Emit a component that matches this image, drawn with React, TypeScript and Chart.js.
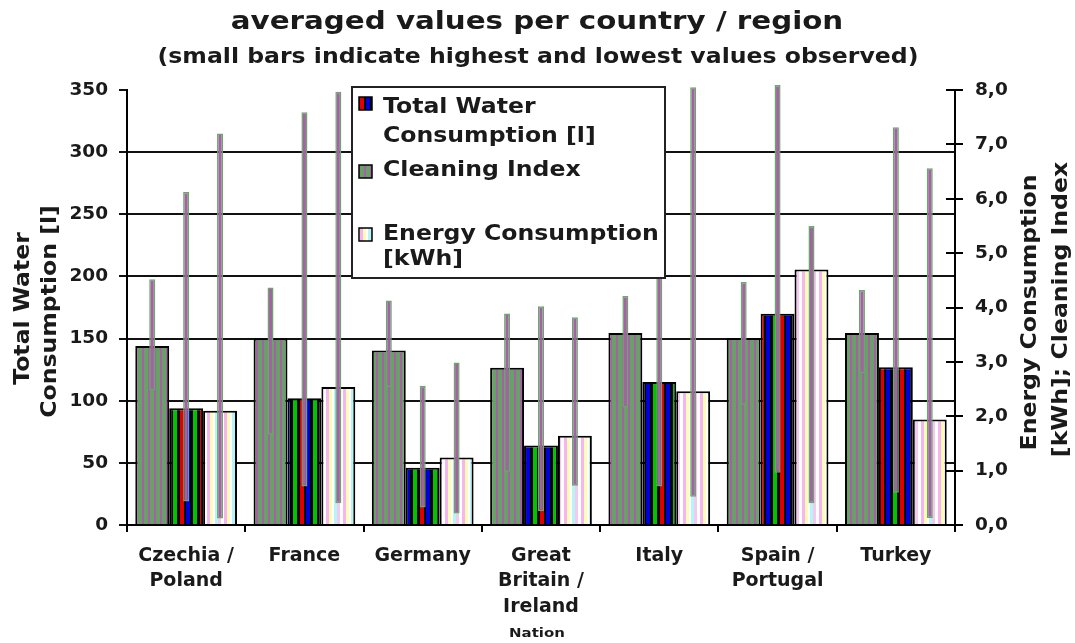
import { useEffect, useRef } from 'react';
import { Chart, registerables } from 'chart.js';

Chart.register(...registerables);

// ---------- data ----------
const categories = [
  ['Czechia /', 'Poland'],
  ['France'],
  ['Germany'],
  ['Great', 'Britain /', 'Ireland'],
  ['Italy'],
  ['Spain /', 'Portugal'],
  ['Turkey'],
];
const waterAvg = [94, 102, 46, 64, 115, 170, 127];
const waterMin = [19, 31, 14, 11, 31, 42, 26];
const waterMax = [268, 332, 112, 176, 300, 354, 320];
const cleaningAvg = [3.29, 3.43, 3.21, 2.89, 3.53, 3.44, 3.53];
const cleaningMin = [2.48, 1.66, 2.54, 0.98, 2.16, 2.21, 2.79];
const cleaningMax = [4.52, 4.37, 4.13, 3.89, 4.21, 4.47, 4.32];
const energyAvg = [2.1, 2.54, 1.24, 1.64, 2.46, 4.7, 1.94];
const energyMin = [0.12, 0.4, 0.21, 0.72, 0.52, 0.4, 0.13];
const energyMax = [7.2, 7.97, 2.99, 3.82, 8.05, 5.5, 6.56];
const leftTicks = [0, 50, 100, 150, 200, 250, 300, 350];
const rightTicks = [0, 1, 2, 3, 4, 5, 6, 7, 8];

const titleText = 'averaged values per country / region';
const subtitleText = '(small bars indicate highest and lowest values observed)';
const leftTitle = ['Total Water', 'Consumption [l]'];
const rightTitle = ['Energy Consumption', '[kWh]; Cleaning Index'];
const xTitle = 'Nation';
const legendLines = ['Total Water', 'Consumption [l]', 'Cleaning Index', 'Energy Consumption', '[kWh]'];

// ---------- styles ----------
const FONT = '"DejaVu Sans", Verdana, sans-serif';
const TEXT = '#1a1a1a';
const WIDE = 1.15; // horizontal stretch to mimic Verdana Bold widths

function stripes(cols: [string, number][]): CanvasPattern {
  const w = cols.reduce((s, [, n]) => s + n, 0);
  const c = document.createElement('canvas');
  c.width = w;
  c.height = 4;
  const g = c.getContext('2d')!;
  let x = 0;
  for (const [col, n] of cols) {
    g.fillStyle = col;
    g.fillRect(x, 0, n, 4);
    x += n;
  }
  return g.createPattern(c, 'repeat')!;
}

function wideText(ctx: CanvasRenderingContext2D, s: string, x: number, y: number, rot = 0) {
  ctx.save();
  ctx.translate(x, y);
  if (rot) ctx.rotate(rot);
  ctx.scale(WIDE, 1);
  ctx.fillText(s, 0, 0);
  ctx.restore();
}

export default function App() {
  const ref = useRef<HTMLCanvasElement>(null);

  useEffect(() => {
    document.body.style.margin = '0';
    const cleanPat = stripes([['#68a068', 4], ['#a462a4', 2]]);
    const waterPat = stripes([
      ['#e00000', 4], ['#000000', 2], ['#0000dc', 4], ['#000000', 3], ['#00c400', 4], ['#000000', 3],
    ]);
    const energyPat = stripes([
      ['#ffffff', 3], ['#f5b5f0', 3], ['#fffdb5', 3], ['#ffffff', 2], ['#b5f5f5', 3], ['#f7c8ee', 3],
    ]);

    const rangeStyle = {
      backgroundColor: '#a462a4',
      borderColor: '#68a868',
      borderWidth: 1.5,
      borderSkipped: false as const,
      maxBarThickness: 6,
      barPercentage: 1,
      categoryPercentage: 0.86,
      clip: false as const,
    };
    const mainStyle = {
      borderColor: '#000000',
      borderWidth: 2,
      barPercentage: 1,
      categoryPercentage: 0.86,
    };

    const overlay = {
      id: 'overlay',
      afterDraw(chart: any) {
        const ctx: CanvasRenderingContext2D = chart.ctx;
        const area = chart.chartArea;
        ctx.save();
        ctx.fillStyle = TEXT;
        ctx.textAlign = 'center';
        ctx.textBaseline = 'middle';
        ctx.font = `bold 25.5px ${FONT}`;
        wideText(ctx, titleText, 537, 22);
        ctx.font = `bold 20.5px ${FONT}`;
        wideText(ctx, subtitleText, 538, 58);

        // axis titles
        ctx.font = `bold 20.5px ${FONT}`;
        const cy = (area.top + area.bottom) / 2;
        wideText(ctx, leftTitle[0], 24, cy + 1, -Math.PI / 2);
        wideText(ctx, leftTitle[1], 51, cy + 4, -Math.PI / 2);
        wideText(ctx, rightTitle[0], 1031, cy + 5, -Math.PI / 2);
        wideText(ctx, rightTitle[1], 1062, cy + 2, -Math.PI / 2);

        ctx.font = `bold 13px ${FONT}`;
        wideText(ctx, xTitle, 537, 634);

        // inner tick marks of the right axis
        const y2 = chart.scales.y2;
        ctx.strokeStyle = '#000';
        ctx.lineWidth = 2;
        for (const t of y2.ticks) {
          const py = Math.round(y2.getPixelForValue(t.value));
          ctx.beginPath();
          ctx.moveTo(area.right - 9, py);
          ctx.lineTo(area.right, py);
          ctx.stroke();
        }

        // legend
        const lx = 352, ly = 87, lw = 313, lh = 191;
        ctx.fillStyle = '#ffffff';
        ctx.fillRect(lx, ly, lw, lh);
        ctx.strokeStyle = '#222';
        ctx.lineWidth = 2;
        ctx.strokeRect(lx, ly, lw, lh);
        const sw = [
          [waterPat, 97],
          [cleanPat, 165],
          [energyPat, 228],
        ] as [CanvasPattern, number][];
        for (const [p, sy] of sw) {
          ctx.fillStyle = p;
          ctx.fillRect(359, sy, 13, 13);
          ctx.lineWidth = 1.5;
          ctx.strokeStyle = '#000';
          ctx.strokeRect(359, sy, 13, 13);
        }
        ctx.fillStyle = TEXT;
        ctx.textAlign = 'left';
        ctx.font = `bold 20.5px ${FONT}`;
        const ys = [108, 137, 171, 235, 260];
        legendLines.forEach((s, i) => wideText(ctx, s, 383, ys[i]));
        ctx.restore();
      },
    };

    const chart = new Chart(ref.current!, {
      type: 'bar',
      data: {
        labels: categories,
        datasets: [
          { ...rangeStyle, label: 'Cleaning range', stack: 'c', yAxisID: 'y2',
            data: cleaningMin.map((v, i) => [v, cleaningMax[i]]) as any },
          { ...rangeStyle, label: 'Water range', stack: 'w', yAxisID: 'y',
            data: waterMin.map((v, i) => [v, waterMax[i]]) as any },
          { ...rangeStyle, label: 'Energy range', stack: 'e', yAxisID: 'y2',
            data: energyMin.map((v, i) => [v, energyMax[i]]) as any },
          { ...mainStyle, label: 'Cleaning Index', stack: 'c', yAxisID: 'y2',
            backgroundColor: cleanPat, data: cleaningAvg },
          { ...mainStyle, label: 'Total Water Consumption [l]', stack: 'w', yAxisID: 'y',
            backgroundColor: waterPat, data: waterAvg },
          { ...mainStyle, label: 'Energy Consumption [kWh]', stack: 'e', yAxisID: 'y2',
            backgroundColor: energyPat, data: energyAvg },
        ],
      },
      options: {
        responsive: false,
        animation: false,
        events: [],
        layout: { padding: { top: 90, left: 0, right: 0, bottom: 0 } },
        plugins: { legend: { display: false }, tooltip: { enabled: false }, title: { display: false } },
        font: { family: FONT },
        scales: {
          x: {
            grid: { drawOnChartArea: false, offset: true, tickLength: 7, lineWidth: 2, color: '#000' },
            border: { color: '#000', width: 2 },
            ticks: { color: TEXT, font: { family: FONT, size: 19, weight: 'bold', lineHeight: 1.35 }, padding: 11, maxRotation: 0, autoSkip: false },
            afterFit: (s: any) => { s.height = 118; },
          },
          y: {
            position: 'left',
            stacked: false,
            min: 0,
            max: 350,
            afterBuildTicks: (s: any) => { s.ticks = leftTicks.map((v) => ({ value: v })); },
            grid: {
              lineWidth: 2,
              color: (c: any) => (c.tick && c.tick.value === 350 ? 'rgba(0,0,0,0)' : '#111'),
              tickColor: '#111',
              tickLength: 8,
            },
            border: { color: '#000', width: 2 },
            ticks: { color: TEXT, font: { family: FONT, size: 18.5, weight: 'bold' }, padding: 11 },
            afterFit: (s: any) => { s.width = 127; },
          },
          y2: {
            position: 'right',
            stacked: false,
            min: 0,
            max: 8,
            afterBuildTicks: (s: any) => { s.ticks = rightTicks.map((v) => ({ value: v })); },
            grid: { drawOnChartArea: false, lineWidth: 2, color: '#000', tickLength: 8 },
            border: { color: '#000', width: 2 },
            ticks: {
              color: TEXT,
              font: { family: FONT, size: 18.5, weight: 'bold' },
              padding: 12,
              callback: (v: any) => Number(v).toFixed(1).replace('.', ','),
            },
            afterFit: (s: any) => { s.width = 120; },
          },
        },
      } as any,
      plugins: [overlay],
    });
    return () => chart.destroy();
  }, []);

  return <canvas ref={ref} width={1075} height={643} style={{ display: 'block' }} />;
}
